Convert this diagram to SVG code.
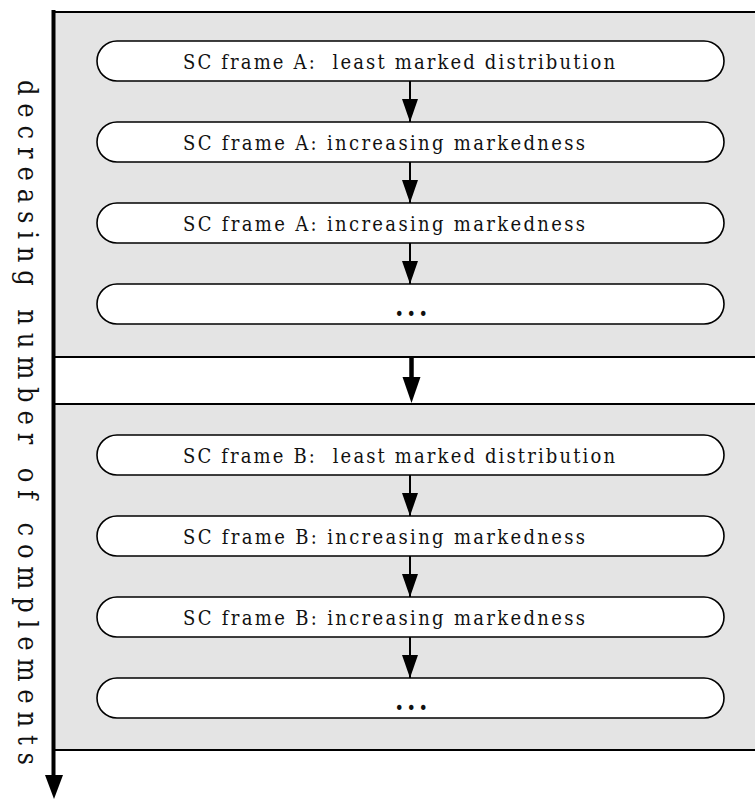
<svg xmlns="http://www.w3.org/2000/svg" width="755" height="799" viewBox="0 0 755 799">
  <style>
    .panel { fill: #e4e4e4; }
    .rule { stroke: #000; stroke-width: 2; fill: none; }
    .node rect { fill: #fff; stroke: #000; stroke-width: 1.6; }
    .node text { font-family: "DejaVu Serif", serif; font-stretch: condensed; font-size: 20px; fill: #111; white-space: pre; }
    .node text.dots { font-size: 27px; font-weight: bold; letter-spacing: 3.5px; }
    .conn line { stroke: #000; stroke-width: 2; }
    .axis-label { font-family: "DejaVu Serif", serif; font-stretch: condensed; font-size: 27px; fill: #111; }
  </style>
  <defs>
    <!-- arrowhead drawn along +x so orient="auto" points it down the line -->
    <marker id="head" viewBox="0 0 23 16" markerWidth="23" markerHeight="16" refX="23" refY="8" orient="auto" markerUnits="userSpaceOnUse">
      <path d="M0,0 L23,8 L0,16 Z" fill="#000"/>
    </marker>
  </defs>

  <!-- background panels -->
  <rect class="panel" x="53" y="12" width="702" height="345"/>
  <rect class="panel" x="53" y="404" width="702" height="346"/>
  <line class="rule" x1="53" y1="12" x2="755" y2="12"/>
  <line class="rule" x1="53" y1="357" x2="755" y2="357"/>
  <line class="rule" x1="53" y1="404" x2="755" y2="404"/>
  <line class="rule" x1="53" y1="750" x2="755" y2="750"/>

  <!-- vertical axis -->
  <g id="axis">
    <line x1="53.5" y1="10" x2="53.5" y2="778" stroke="#000" stroke-width="4"/>
    <path d="M45,775 L63,775 L54,799 Z" fill="#000"/>
    <text class="axis-label" transform="translate(18,80) rotate(90)" textLength="685" lengthAdjust="spacing">decreasing number of complements</text>
  </g>

  <!-- connectors -->
  <g id="connectors" class="conn">
    <line x1="410" y1="81" x2="410" y2="122" marker-end="url(#head)"/>
    <line x1="410" y1="162" x2="410" y2="203" marker-end="url(#head)"/>
    <line x1="410" y1="243" x2="410" y2="284" marker-end="url(#head)"/>
    <line x1="410" y1="475" x2="410" y2="516" marker-end="url(#head)"/>
    <line x1="410" y1="556" x2="410" y2="597" marker-end="url(#head)"/>
    <line x1="410" y1="637" x2="410" y2="678" marker-end="url(#head)"/>
    <line x1="411.5" y1="358" x2="411.5" y2="380" style="stroke-width:4.5"/>
    <path d="M402.5,377 L420.5,377 L411.5,403 Z" fill="#000"/>
  </g>

  <!-- frame A -->
  <g id="a1" class="node"><rect x="97" y="41" width="627" height="40" rx="20"/><text x="183" y="69" textLength="432" lengthAdjust="spacing">SC frame A:  least marked distribution</text></g>
  <g id="a2" class="node"><rect x="97" y="122" width="627" height="40" rx="20"/><text x="183" y="150" textLength="402" lengthAdjust="spacing">SC frame A: increasing markedness</text></g>
  <g id="a3" class="node"><rect x="97" y="203" width="627" height="40" rx="20"/><text x="183" y="231" textLength="402" lengthAdjust="spacing">SC frame A: increasing markedness</text></g>
  <g id="a4" class="node"><rect x="97" y="284" width="627" height="40" rx="20"/><text class="dots" x="395" y="316">...</text></g>

  <!-- frame B -->
  <g id="b1" class="node"><rect x="97" y="435" width="627" height="40" rx="20"/><text x="183" y="463" textLength="432" lengthAdjust="spacing">SC frame B:  least marked distribution</text></g>
  <g id="b2" class="node"><rect x="97" y="516" width="627" height="40" rx="20"/><text x="183" y="544" textLength="402" lengthAdjust="spacing">SC frame B: increasing markedness</text></g>
  <g id="b3" class="node"><rect x="97" y="597" width="627" height="40" rx="20"/><text x="183" y="625" textLength="402" lengthAdjust="spacing">SC frame B: increasing markedness</text></g>
  <g id="b4" class="node"><rect x="97" y="678" width="627" height="40" rx="20"/><text class="dots" x="395" y="710">...</text></g>
</svg>
